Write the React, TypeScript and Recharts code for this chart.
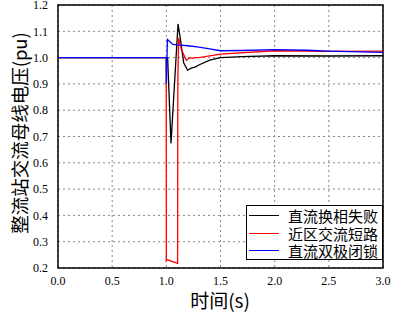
import React from "react";
import { LineChart, Line, XAxis, YAxis, CartesianGrid, ReferenceArea } from "recharts";

// 直流换相失败
const failT = [0, 1.0, 1.012, 1.043, 1.108, 1.13, 1.16, 1.196, 1.23, 1.27, 1.3, 1.4, 1.5, 1.7, 2.0, 2.5, 3.0];
const failV = [1.0, 1.0, 1.0, 0.674, 1.128, 1.07, 0.98, 0.952, 0.96, 0.965, 0.972, 0.99, 1.0, 1.004, 1.007, 1.006, 1.007];

// 近区交流短路
const shortT = [0, 0.999, 1.0, 1.005, 1.104, 1.106, 1.113, 1.14, 1.184, 1.2, 1.22, 1.24, 1.26, 1.3, 1.5, 2.0, 2.5, 3.0];
const shortV = [1.0, 1.0, 0.229, 0.232, 0.218, 0.9, 1.075, 1.03, 0.99, 0.995, 1.0, 0.997, 1.0, 1.0, 1.013, 1.026, 1.024, 1.025];

// 直流双极闭锁
const blockT = [0, 0.999, 1.0, 1.01, 1.06, 1.1, 1.2, 1.3, 1.4, 1.5, 1.7, 2.0, 2.3, 2.5, 3.0];
const blockV = [1.0, 1.0, 0.9, 1.069, 1.05, 1.048, 1.045, 1.04, 1.033, 1.026, 1.027, 1.03, 1.028, 1.025, 1.02];

const xTicks = [0, 0.5, 1.0, 1.5, 2.0, 2.5, 3.0];
const yTicks = [0.2, 0.3, 0.4, 0.5, 0.6, 0.7, 0.8, 0.9, 1.0, 1.1, 1.2];

const series = [
  { name: "直流换相失败", color: "#000000", t: failT, v: failV },
  { name: "近区交流短路", color: "#ff0000", t: shortT, v: shortV },
  { name: "直流双极闭锁", color: "#0000ff", t: blockT, v: blockV },
];

const toRows = (t: number[], v: number[]) => t.map((x, i) => ({ t: x, v: v[i] }));

const tickFont = { fontSize: 12, fill: "#000", fontFamily: "'Liberation Serif', serif" };
const cjk = "'Noto Sans CJK SC', sans-serif";

const YTitle = () => (
  <text
    x={0}
    y={0}
    transform="translate(19,133) rotate(-90)"
    textAnchor="middle"
    dominantBaseline="central"
    fontSize={18.5}
    fontFamily={cjk}
    fill="#000"
  >
    整流站交流母线电压(pu)
  </text>
);

const XTitle = () => (
  <text x={220} y={299} textAnchor="middle" dominantBaseline="central" fontSize={19} fontFamily={cjk} fill="#000">
    时间(s)
  </text>
);

const LegendBox = () => (
  <div
    style={{
      position: "absolute",
      left: 246,
      top: 205,
      width: 137,
      height: 55,
      boxSizing: "border-box",
      border: "1px solid #000",
      background: "#fff",
      padding: "1px 0 0 2px",
      fontFamily: cjk,
      fontSize: 15,
      lineHeight: "17.5px",
      whiteSpace: "nowrap",
    }}
  >
    {series.map((s) => (
      <div key={s.name} style={{ display: "flex", alignItems: "center", height: 17.5 }}>
        <span style={{ display: "inline-block", width: 30, height: 0, borderTop: `1.5px solid ${s.color}`, marginRight: 9 }} />
        <span>{s.name}</span>
      </div>
    ))}
  </div>
);

export default function App() {
  return (
    <div style={{ position: "fixed", left: 0, top: 0, width: 394, height: 312, background: "#fff" }}>
      <LineChart width={394} height={312} margin={{ top: 5, right: 11, left: 0, bottom: 0 }}>
        <CartesianGrid stroke="#888" strokeDasharray="2 3" />
        <XAxis
          dataKey="t"
          type="number"
          domain={[0, 3]}
          ticks={xTicks}
          interval={0}
          tickFormatter={(x: number) => x.toFixed(1)}
          tick={tickFont}
          tickLine={false}
          axisLine={false}
          tickMargin={2}
          height={44}
          allowDuplicatedCategory={false}
          label={<XTitle />}
        />
        <YAxis
          type="number"
          domain={[0.2, 1.2]}
          ticks={yTicks}
          interval={0}
          tickFormatter={(y: number) => y.toFixed(1)}
          tick={tickFont}
          tickLine={false}
          axisLine={false}
          tickMargin={4}
          width={58}
          label={<YTitle />}
        />
        <ReferenceArea x1={0} x2={3} y1={0.2} y2={1.2} stroke="#000" strokeWidth={1.5} fill="none" fillOpacity={0} />
        {series.map((s) => (
          <Line
            key={s.name}
            data={toRows(s.t, s.v)}
            dataKey="v"
            name={s.name}
            type="linear"
            stroke={s.color}
            strokeWidth={1.3}
            dot={false}
            isAnimationActive={false}
          />
        ))}
      </LineChart>
      <LegendBox />
    </div>
  );
}
